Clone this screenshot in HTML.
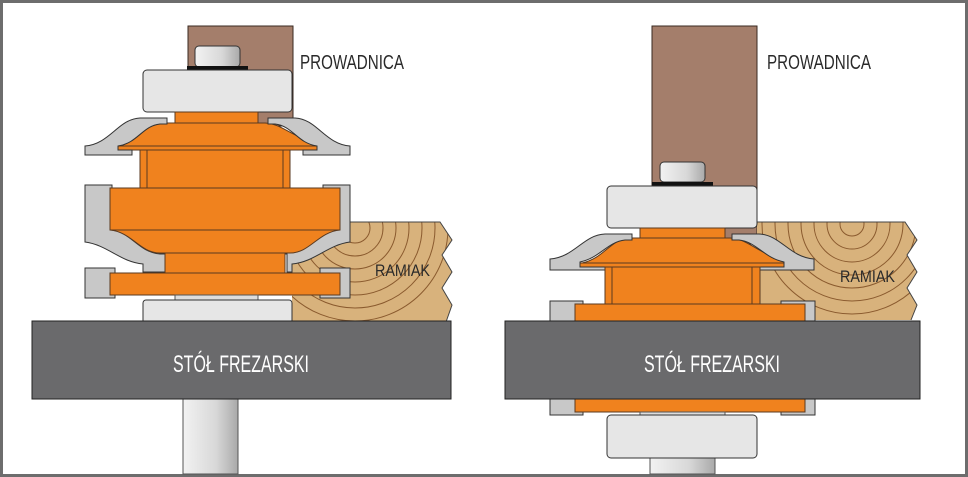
<!DOCTYPE html>
<html><head><meta charset="utf-8"><style>html,body{margin:0;padding:0;background:#fff}svg{display:block}</style></head><body>
<svg width="968" height="477" viewBox="0 0 968 477" xmlns="http://www.w3.org/2000/svg" font-family="Liberation Sans, sans-serif">
<defs>
<linearGradient id="sh" x1="0" x2="1"><stop offset="0" stop-color="#f2f2f2"/><stop offset="0.6" stop-color="#d8d8d8"/><stop offset="1" stop-color="#a9a9a9"/></linearGradient>
<clipPath id="wl"><path d="M292,222 L440,222 L452,240 L442,255 L452,272 L442,288 L452,305 L446,322 L292,322 Z"/></clipPath>
<clipPath id="wr"><path d="M757,222 L905,222 L917,240 L907,255 L917,272 L907,288 L917,305 L911,320 L757,320 Z"/></clipPath>
</defs>
<rect x="1.5" y="1.5" width="965" height="474" fill="#fff" stroke="#6d6d6d" stroke-width="3"/>

<!-- LEFT -->
<rect x="188" y="26" width="105" height="100" fill="#a47e6b" stroke="#3a2a22" stroke-width="1"/>
<g clip-path="url(#wl)">
<rect x="290" y="220" width="170" height="105" fill="#d8b27c"/>
<g fill="none" stroke="#8a5a2e" stroke-width="1">
<circle cx="355" cy="228" r="15"/><circle cx="355" cy="228" r="28"/><circle cx="355" cy="228" r="41"/><circle cx="355" cy="228" r="54"/><circle cx="355" cy="228" r="67"/><circle cx="355" cy="228" r="80"/><circle cx="355" cy="228" r="93"/>
</g></g>
<path d="M292,222 L440,222 L452,240 L442,255 L452,272 L442,288 L452,305 L446,322" fill="none" stroke="#444" stroke-width="1"/>
<rect x="195" y="46" width="45" height="21" rx="4" fill="url(#sh)" stroke="#333"/>
<rect x="187" y="66" width="61" height="4" fill="#111"/>
<rect x="143" y="70" width="149" height="42" rx="4" fill="#e6e6e6" stroke="#333"/>
<rect x="175" y="112" width="83" height="11" fill="#f0821e" stroke="#5a3a20"/>
<path d="M120,146 C140,140 145,124 162,123 L265,123 C285,124 292,140 330,146 Z" fill="#f0821e" stroke="#5a3a20"/>
<rect x="110" y="146" width="230" height="4" fill="#f0821e" stroke="#5a3a20"/>
<path d="M85,146 C110,144 118,119 140,118 L167,118 L167,124 L160,124 C142,126 138,143 118,146 L118,150 L132,150 L132,155 L85,155 Z" fill="#c8c8c8" stroke="#333"/>
<path d="M350,146 C325,144 317,119 295,118 L268,118 L268,124 L275,124 C293,126 297,143 317,146 L317,150 L303,150 L303,155 L350,155 Z" fill="#c8c8c8" stroke="#333"/>
<rect x="140" y="150" width="150" height="38" fill="#f0821e" stroke="#5a3a20"/>
<line x1="147" y1="150" x2="147" y2="188" stroke="#5a3a20"/><line x1="283" y1="150" x2="283" y2="188" stroke="#5a3a20"/>
<path d="M85,185 L112,185 L112,230 C132,233 138,252 160,254 L165,254 L165,272 L143,272 L143,264 C120,262 108,245 85,242 Z" fill="#c8c8c8" stroke="#333"/>
<path d="M350,185 L323,185 L323,230 C303,233 297,252 275,254 L287,254 L287,272 L292,272 L292,264 C315,262 327,245 350,242 Z" fill="#c8c8c8" stroke="#333"/>
<path d="M110,188 L340,188 L340,230 C318,232 310,253 290,253 L160,253 C140,253 132,232 110,230 Z" fill="#f0821e" stroke="#5a3a20"/>
<line x1="110" y1="230" x2="340" y2="230" stroke="#5a3a20"/>
<rect x="165" y="253" width="120" height="20" fill="#f0821e" stroke="#5a3a20"/>
<rect x="85" y="268" width="30" height="30" fill="#c8c8c8" stroke="#333"/>
<rect x="320" y="268" width="30" height="30" fill="#c8c8c8" stroke="#333"/>
<rect x="110" y="273" width="230" height="22" fill="#f0821e" stroke="#5a3a20"/>
<rect x="175" y="295" width="83" height="5" fill="#ddd" stroke="#555"/>
<rect x="143" y="300" width="149" height="25" rx="3" fill="#e6e6e6" stroke="#333"/>
<rect x="183" y="399" width="55" height="75" fill="url(#sh)" stroke="#555"/>
<rect x="32" y="321" width="419" height="78" fill="#6a6a6c" stroke="#222"/>
<text x="241" y="372" fill="#fff" font-size="24" text-anchor="middle" textLength="136" lengthAdjust="spacingAndGlyphs">STÓŁ FREZARSKI</text>
<text x="300" y="69" fill="#2a2a2a" font-size="20" textLength="104" lengthAdjust="spacingAndGlyphs">PROWADNICA</text>
<text x="375" y="276" fill="#2a2a2a" font-size="17" textLength="55" lengthAdjust="spacingAndGlyphs">RAMIAK</text>

<!-- RIGHT -->
<rect x="652" y="26" width="105" height="218" fill="#a47e6b" stroke="#3a2a22" stroke-width="1"/>
<g clip-path="url(#wr)">
<rect x="755" y="220" width="170" height="105" fill="#d8b27c"/>
<g fill="none" stroke="#8a5a2e" stroke-width="1">
<circle cx="852" cy="224" r="12"/><circle cx="852" cy="224" r="25"/><circle cx="852" cy="224" r="38"/><circle cx="852" cy="224" r="51"/><circle cx="852" cy="224" r="64"/><circle cx="852" cy="224" r="77"/><circle cx="852" cy="224" r="90"/>
</g></g>
<path d="M757,222 L905,222 L917,240 L907,255 L917,272 L907,288 L917,305 L911,320" fill="none" stroke="#444" stroke-width="1"/>
<rect x="660" y="162" width="45" height="20" rx="4" fill="url(#sh)" stroke="#333"/>
<rect x="652" y="182" width="61" height="4" fill="#111"/>
<rect x="607" y="186" width="150" height="42" rx="4" fill="#e6e6e6" stroke="#333"/>
<rect x="640" y="228" width="85" height="11" fill="#f0821e" stroke="#5a3a20"/>
<path d="M582,263 C605,258 610,239 630,238 L730,238 C752,239 758,258 800,263 Z" fill="#f0821e" stroke="#5a3a20"/>
<rect x="575" y="263" width="230" height="4" fill="#f0821e" stroke="#5a3a20"/>
<path d="M550,259 C575,257 583,235 605,234 L632,234 L632,240 L625,240 C607,242 600,258 580,262 L580,267 L605,267 L605,270 L550,270 Z" fill="#c8c8c8" stroke="#333"/>
<path d="M814,259 C789,257 781,235 759,234 L732,234 L732,240 L739,240 C757,242 764,258 784,262 L784,267 L759,267 L759,270 L814,270 Z" fill="#c8c8c8" stroke="#333"/>
<rect x="605" y="267" width="155" height="38" fill="#f0821e" stroke="#5a3a20"/>
<line x1="612" y1="267" x2="612" y2="305" stroke="#5a3a20"/><line x1="752" y1="267" x2="752" y2="305" stroke="#5a3a20"/>
<rect x="550" y="301" width="33" height="20" fill="#c8c8c8" stroke="#333"/>
<rect x="781" y="301" width="34" height="20" fill="#c8c8c8" stroke="#333"/>
<rect x="575" y="304" width="230" height="18" fill="#f0821e" stroke="#5a3a20"/>
<rect x="550" y="397" width="33" height="18" fill="#c8c8c8" stroke="#333"/>
<rect x="781" y="397" width="34" height="18" fill="#c8c8c8" stroke="#333"/>
<rect x="575" y="397" width="230" height="15" fill="#f0821e" stroke="#5a3a20"/>
<rect x="640" y="412" width="85" height="4" fill="#ddd" stroke="#555"/>
<rect x="650" y="456" width="65" height="18" fill="url(#sh)" stroke="#555"/>
<rect x="607" y="415" width="150" height="43" rx="4" fill="#e6e6e6" stroke="#333"/>
<rect x="505" y="321" width="415" height="78" fill="#6a6a6c" stroke="#222"/>
<text x="712" y="372" fill="#fff" font-size="24" text-anchor="middle" textLength="136" lengthAdjust="spacingAndGlyphs">STÓŁ FREZARSKI</text>
<text x="767" y="69" fill="#2a2a2a" font-size="20" textLength="104" lengthAdjust="spacingAndGlyphs">PROWADNICA</text>
<text x="840" y="282" fill="#2a2a2a" font-size="17" textLength="55" lengthAdjust="spacingAndGlyphs">RAMIAK</text>
</svg>
</body></html>
